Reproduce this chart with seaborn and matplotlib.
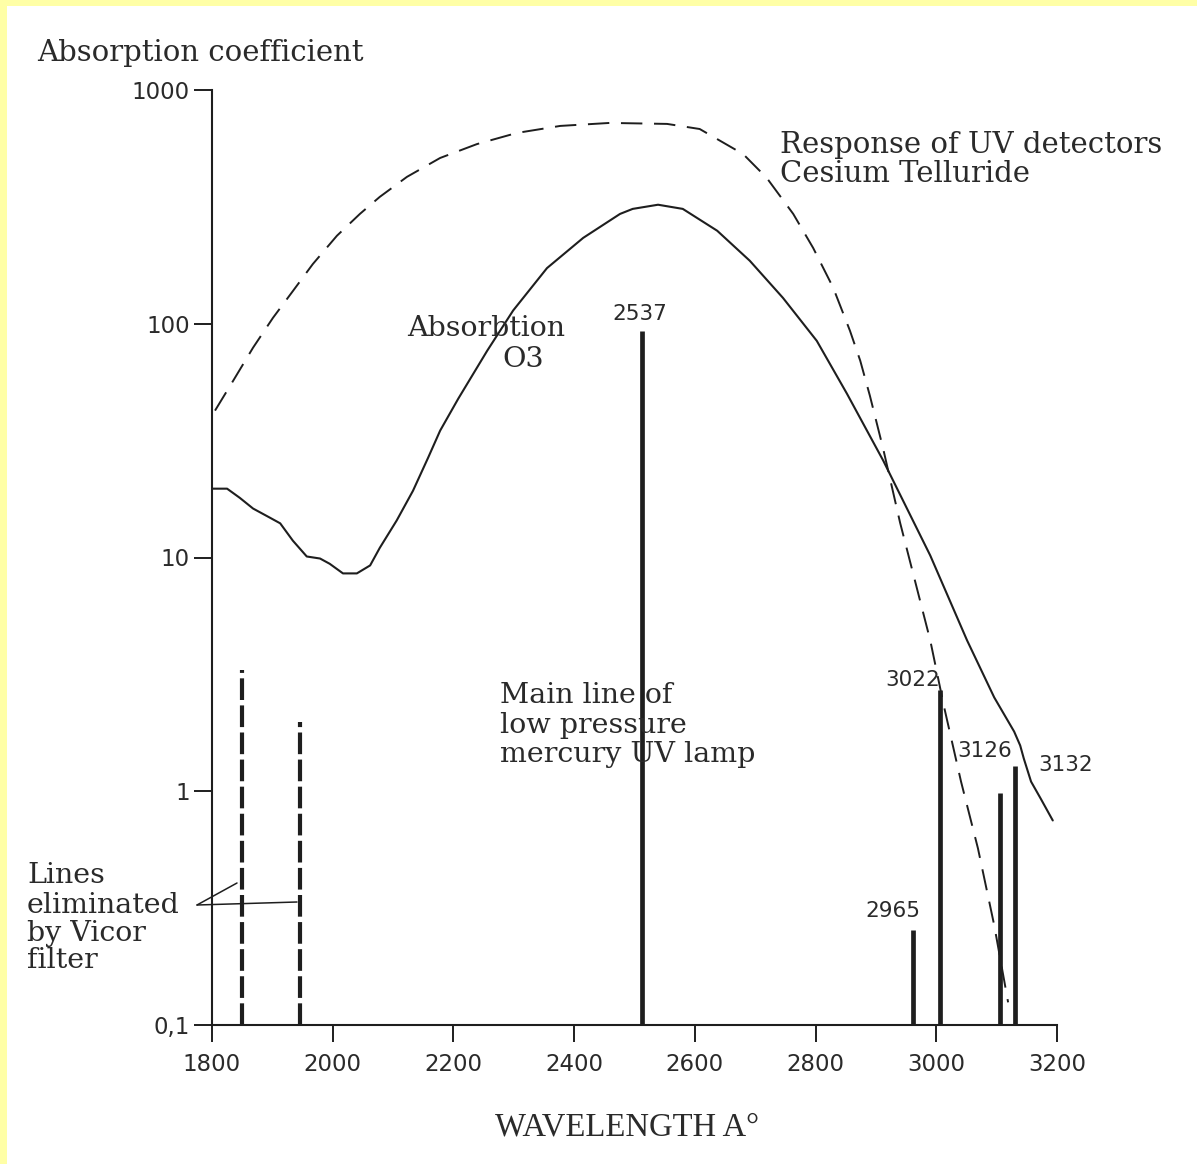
import numpy as np
import pandas as pd
import matplotlib
matplotlib.use("Agg")
import matplotlib.pyplot as plt
from matplotlib.lines import Line2D
from matplotlib.patches import Rectangle
from matplotlib.ticker import NullLocator, FixedLocator, FixedFormatter
import seaborn as sns

# ---------------- data ----------------
o3_wavelength = [1800, 1825, 1846, 1868, 1896, 1913, 1934, 1957, 1979, 1995, 2017, 2040,
                 2062, 2078, 2106, 2133, 2158, 2178, 2208, 2256, 2299, 2355, 2415, 2476,
                 2497, 2539, 2580, 2637, 2691, 2746, 2802, 2852, 2912, 2990, 3051, 3096,
                 3129, 3139, 3145, 3157, 3173, 3193]
o3_absorption = [19.7, 19.7, 18.0, 16.2, 14.8, 14.0, 11.8, 10.1, 9.9, 9.4, 8.55, 8.55,
                 9.25, 11.0, 14.4, 19.3, 26.7, 34.9, 47.8, 76.7, 114, 173, 233, 295,
                 310, 323, 310, 250, 186, 129, 84.5, 50.2, 26.0, 10.2, 4.42, 2.52,
                 1.80, 1.57, 1.38, 1.10, 0.93, 0.75]

detector_wavelength = [1805, 1835, 1868, 1901, 1934, 1967, 2007, 2045, 2078, 2123, 2178,
                       2239, 2305, 2377, 2459, 2554, 2608, 2680, 2719, 2763, 2796, 2829,
                       2857, 2874, 2890, 2912, 2940, 2990, 3013, 3041, 3069, 3096, 3119]
detector_response = [42.5, 57, 79, 106, 138, 180, 238, 295, 349, 425, 512,
                     587, 655, 702, 723, 716, 681, 532, 421, 295, 211, 143,
                     93.3, 69.5, 49.2, 29.2, 14.1, 4.42, 2.29, 1.10, 0.57, 0.267, 0.125]

eliminated_wavelength = [1850, 1946]
eliminated_height = [3.3, 1.97]

lamp_wavelength = [2512, 2961, 3006, 3105, 3130]
lamp_height = [93, 0.255, 2.7, 0.98, 1.28]
lamp_labels = ["2537", "2965", "3022", "3126", "3132"]

y_ticks = [0.1, 1, 10, 100, 1000]
y_tick_labels = ["0,1", "1", "10", "100", "1000"]
x_ticks = [1800, 2000, 2200, 2400, 2600, 2800, 3000, 3200]
x_tick_labels = ["1800", "2000", "2200", "2400", "2600", "2800", "3000", "3200"]

# ---------------- figure ----------------
sns.set_theme(style="ticks")
plt.rcParams["font.family"] = ["DejaVu Sans"]

W, H = 1197, 1164
fig = plt.figure(figsize=(W / 100, H / 100), dpi=100)
fig.patch.set_facecolor("white")
ax = fig.add_axes([212 / W, (H - 1025) / H, 845 / W, 935 / H])
ax.set_facecolor("white")

INK = "#1e1e1e"
TXT = "#2a2a2a"

o3_df = pd.DataFrame({"wavelength": o3_wavelength, "value": o3_absorption})
det_df = pd.DataFrame({"wavelength": detector_wavelength, "value": detector_response})

sns.lineplot(data=o3_df, x="wavelength", y="value", ax=ax, color=INK, lw=1.5,
             sort=False, legend=False)
sns.lineplot(data=det_df, x="wavelength", y="value", ax=ax, color=INK, lw=1.4,
             linestyle=(0, (11, 6)), sort=False, legend=False)

# spectral lines
ax.vlines(eliminated_wavelength, 0.1, eliminated_height, colors=INK, lw=3.0,
          linestyles=[(0, (5.2, 1.3))])
ax.vlines(lamp_wavelength, 0.1, lamp_height, colors=INK, lw=3.4)

ax.set_yscale("log")
ax.set_xlim(1800, 3200)
ax.set_ylim(0.1, 1000)
ax.yaxis.set_major_locator(FixedLocator(y_ticks))
ax.yaxis.set_major_formatter(FixedFormatter(y_tick_labels))
ax.yaxis.set_minor_locator(NullLocator())
ax.xaxis.set_major_locator(FixedLocator(x_ticks))
ax.xaxis.set_major_formatter(FixedFormatter(x_tick_labels))
ax.xaxis.set_minor_locator(NullLocator())
ax.set_xlabel("")
ax.set_ylabel("")

for s in ["top", "right"]:
    ax.spines[s].set_visible(False)
for s in ["left", "bottom"]:
    ax.spines[s].set_linewidth(1.5)
    ax.spines[s].set_color(INK)

ax.tick_params(axis="y", direction="out", length=13, width=1.4, color=INK,
               labelsize=16.5, labelcolor=TXT, pad=3)
ax.tick_params(axis="x", direction="out", length=12, width=1.4, color=INK,
               labelsize=16.5, labelcolor=TXT, pad=8)

# ---------------- text (placed in reference pixel positions) ----------------
def ftext(x, y, s, **kw):
    fig.text(x / W, 1 - y / H, s, va="baseline", ha="left", color=TXT, **kw)

SERIF = ["DejaVu Serif"]
FS = 20.5
ftext(37, 61, "Absorption coefficient", family=SERIF, fontsize=21)
ftext(780, 153, "Response of UV detectors", family=SERIF, fontsize=21)
ftext(780, 182, "Cesium Telluride", family=SERIF, fontsize=21)
ftext(407, 336, "Absorbtion", family=SERIF, fontsize=FS)
ftext(502, 367, "O3", family=SERIF, fontsize=FS)
ftext(500, 703, "Main line of", family=SERIF, fontsize=FS)
ftext(500, 733, "low pressure", family=SERIF, fontsize=FS)
ftext(500, 762, "mercury UV lamp", family=SERIF, fontsize=FS)
ftext(27, 883, "Lines", family=SERIF, fontsize=FS)
ftext(27, 913, "eliminated", family=SERIF, fontsize=FS)
ftext(27, 941, "by Vicor", family=SERIF, fontsize=FS)
ftext(27, 968, "filter", family=SERIF, fontsize=FS)

label_pos = {"2537": (612, 320), "2965": (865, 917), "3022": (885, 686),
             "3126": (957, 757), "3132": (1038, 771)}
for lab in lamp_labels:
    x, y = label_pos[lab]
    ftext(x, y, lab, fontsize=15.5)

ftext(495, 1135, "WAVELENGTH A°", family=["Liberation Serif"], fontsize=23.5)

# pointer lines for "Lines eliminated by Vicor filter"
for (x0, y0, x1, y1) in [(197, 905, 237, 883), (197, 905, 297, 902)]:
    fig.add_artist(Line2D([x0 / W, x1 / W], [1 - y0 / H, 1 - y1 / H],
                          transform=fig.transFigure, color=INK, lw=1.1))

# scanned-page yellow frame
YEL = "#ffffa6"
fig.add_artist(Rectangle((0, 1 - 6 / H), 1, 6 / H, transform=fig.transFigure,
                         facecolor=YEL, edgecolor="none"))
fig.add_artist(Rectangle((0, 0), 7 / W, 1, transform=fig.transFigure,
                         facecolor=YEL, edgecolor="none"))

fig.savefig("out.png", dpi=100, facecolor="white")
